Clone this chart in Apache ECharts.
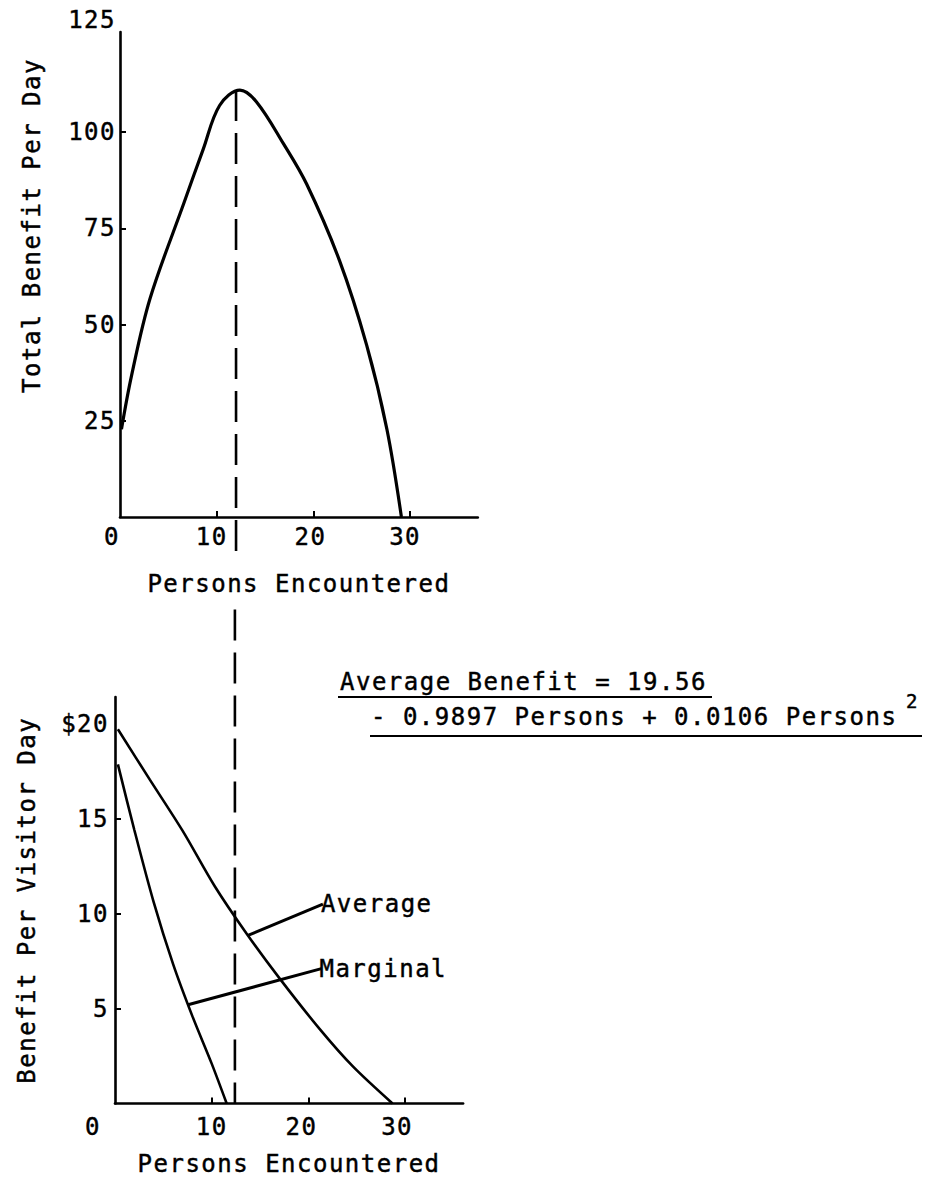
<!DOCTYPE html>
<html>
<head>
<meta charset="utf-8">
<script src="https://cdn.jsdelivr.net/npm/echarts@6/dist/echarts.min.js"></script>
<style>
html, body { margin: 0; padding: 0; background: #ffffff; }
#chart { width: 926px; height: 1180px; }
#chart text { letter-spacing: 1.5px; stroke: #000; stroke-width: 0.45px; }
</style>
</head>
<body>
<div id="chart"></div>
<script>
// ---- Data ----
// Top panel: Total benefit per day vs persons encountered
const totalPersons = [0.15, 1.2, 3.1, 6.6, 8.6, 10.3, 12.4, 14.1, 16.9, 19.3, 22.7, 25.5, 27.6, 29.1];
const totalBenefit = [22.8, 36.8, 56.7, 81.5, 95.5, 106.9, 110.9, 107.9, 97.0, 86.5, 66.6, 44.7, 22.8, 0];

// Bottom panel: benefit per visitor day
const averagePersons = [0.3, 3.6, 7.0, 10.3, 13.6, 17.0, 21.2, 24.6, 28.7];
const averageBenefit = [19.7, 17.05, 14.35, 11.45, 8.95, 6.6, 3.9, 1.95, 0];
const marginalPersons = [0.3, 2.0, 4.0, 6.0, 8.0, 10.0, 11.55];
const marginalBenefit = [17.85, 14.4, 10.6, 7.35, 4.6, 2.1, 0];

// Optimum (dashed guide) position
const guideTopPersons = [12.0, 12.0];
const guideTopValues = [110.9, -10];
const guideBottomPersons = [12.4, 12.4];
const guideBottomValues = [26, 0];

// Label leader lines
const avgLeaderPersons = [13.75, 21.5];
const avgLeaderValues = [8.85, 10.5];
const margLeaderPersons = [7.55, 21.35];
const margLeaderValues = [5.2, 7.1];

// Tick labels / ticks
const topXTicks = [0, 10, 20, 30];
const topYTicks = [25, 50, 75, 100, 125];
const bottomXTicks = [0, 10, 20, 30];
const bottomYTicks = [5, 10, 15, 20];

const FONT = '"DejaVu Sans Mono", monospace';
const FS = 24;

function zip(a, b) { return a.map((v, i) => [v, b[i]]); }

// per-label left shifts (layout only)
function xFormatter(shifts) {
  return function (v) {
    const s = shifts[v] || 0;
    return s ? '{s' + s + '|' + v + '}' : String(v);
  };
}
function richShifts(shifts) {
  const r = {};
  Object.keys(shifts).forEach(k => {
    const s = shifts[k];
    r['s' + s] = { fontSize: FS, fontFamily: FONT, color: '#000', padding: [0, 2 * s, 0, 0] };
  });
  return r;
}

const topXShift = { 0: 8, 10: 5, 20: 3, 30: 5 };
const botXShift = { 0: 22, 20: 7, 30: 8 };

const axisLineStyle = { color: '#000', width: 2.6 };
function ticks(values) {
  return { show: true, inside: true, length: 6, customValues: values, lineStyle: { color: '#000', width: 2 } };
}
const labelBase = { color: '#000', fontSize: FS, fontFamily: FONT };

const chart = echarts.init(document.getElementById('chart'), null, { renderer: 'svg' });

const option = {
  backgroundColor: '#ffffff',
  animation: false,
  textStyle: { fontFamily: FONT, color: '#000' },
  grid: [
    { left: 120, top: 32, width: 357.8, height: 485, containLabel: false },
    { left: 115, top: 697, width: 348.1, height: 406.5, containLabel: false }
  ],
  xAxis: [
    {
      type: 'value', gridIndex: 0, min: 0, max: 37, interval: 10,
      axisLine: { show: true, onZero: false, lineStyle: axisLineStyle },
      axisTick: ticks([10, 20, 30]), splitLine: { show: false },
      axisLabel: Object.assign({}, labelBase, { margin: 8, customValues: topXTicks, formatter: xFormatter(topXShift), rich: richShifts(topXShift) }),
      name: 'Persons Encountered', nameLocation: 'middle', nameGap: 55,
      nameTextStyle: { fontSize: FS, fontFamily: FONT, color: '#000' }
    },
    {
      type: 'value', gridIndex: 1, min: 0, max: 36, interval: 10,
      axisLine: { show: true, onZero: false, lineStyle: axisLineStyle },
      axisTick: ticks([10, 20, 30]), splitLine: { show: false },
      axisLabel: Object.assign({}, labelBase, { margin: 11, customValues: bottomXTicks, formatter: xFormatter(botXShift), rich: richShifts(botXShift) }),
      name: 'Persons Encountered', nameLocation: 'middle', nameGap: 48,
      nameTextStyle: { fontSize: FS, fontFamily: FONT, color: '#000' }
    }
  ],
  yAxis: [
    {
      type: 'value', gridIndex: 0, min: 0, max: 126, interval: 25,
      axisLine: { show: true, onZero: false, lineStyle: axisLineStyle },
      axisTick: ticks([25, 50, 75, 100]), splitLine: { show: false },
      axisLabel: Object.assign({}, labelBase, {
        margin: 4, customValues: topYTicks,
        formatter: function (v) { return v === 125 ? '{t|125}' : String(v); },
        rich: { t: { fontSize: FS, fontFamily: FONT, color: '#000', padding: [0, 0, 32, 0] } }
      }),
      name: 'Total Benefit Per Day', nameLocation: 'middle', nameGap: 76,
      nameTextStyle: { fontSize: FS, fontFamily: FONT, color: '#000', padding: [0, 0, 0, 98] }
    },
    {
      type: 'value', gridIndex: 1, min: 0, max: 21.4, interval: 5,
      axisLine: { show: true, onZero: false, lineStyle: axisLineStyle },
      axisTick: ticks([5, 10, 15]), splitLine: { show: false },
      axisLabel: Object.assign({}, labelBase, {
        margin: 6, customValues: bottomYTicks,
        formatter: function (v) { return v === 20 ? '$20' : String(v); }
      }),
      name: 'Benefit Per Visitor Day', nameLocation: 'middle', nameGap: 76,
      nameTextStyle: { fontSize: FS, fontFamily: FONT, color: '#000' }
    }
  ],
  series: [
    {
      name: 'Total Benefit', type: 'line', xAxisIndex: 0, yAxisIndex: 0,
      data: zip(totalPersons, totalBenefit), smooth: 0.35, symbol: 'none',
      lineStyle: { color: '#000', width: 3.2 }
    },
    {
      name: 'Optimum (top)', type: 'line', xAxisIndex: 0, yAxisIndex: 0, clip: false,
      data: zip(guideTopPersons, guideTopValues), symbol: 'none',
      lineStyle: { color: '#000', width: 2.6, type: [31, 12] }
    },
    {
      name: 'Average', type: 'line', xAxisIndex: 1, yAxisIndex: 1,
      data: zip(averagePersons, averageBenefit), smooth: 0.3, symbol: 'none',
      lineStyle: { color: '#000', width: 2.6 }
    },
    {
      name: 'Marginal', type: 'line', xAxisIndex: 1, yAxisIndex: 1,
      data: zip(marginalPersons, marginalBenefit), smooth: 0.3, symbol: 'none',
      lineStyle: { color: '#000', width: 2.6 }
    },
    {
      name: 'Optimum (bottom)', type: 'line', xAxisIndex: 1, yAxisIndex: 1, clip: false,
      data: zip(guideBottomPersons, guideBottomValues), symbol: 'none',
      lineStyle: { color: '#000', width: 2.6, type: [31, 12] }
    },
    {
      name: 'Average label', type: 'line', xAxisIndex: 1, yAxisIndex: 1,
      data: zip(avgLeaderPersons, avgLeaderValues), symbol: 'none',
      lineStyle: { color: '#000', width: 3 },
      endLabel: { show: true, formatter: 'Average', distance: -2, color: '#000', fontSize: FS, fontFamily: FONT }
    },
    {
      name: 'Marginal label', type: 'line', xAxisIndex: 1, yAxisIndex: 1,
      data: zip(margLeaderPersons, margLeaderValues), symbol: 'none',
      lineStyle: { color: '#000', width: 3 },
      endLabel: { show: true, formatter: 'Marginal', distance: -2, color: '#000', fontSize: FS, fontFamily: FONT }
    }
  ],
  graphic: [
    { type: 'text', x: 340, y: 682, style: { text: 'Average Benefit = 19.56', font: FS + 'px ' + FONT, fill: '#000', align: 'left', verticalAlign: 'middle' } },
    { type: 'line', shape: { x1: 338, y1: 697, x2: 712, y2: 697 }, style: { stroke: '#000', lineWidth: 2 } },
    { type: 'text', x: 371, y: 717, style: { text: '- 0.9897 Persons + 0.0106 Persons', font: FS + 'px ' + FONT, fill: '#000', align: 'left', verticalAlign: 'middle' } },
    { type: 'text', x: 906, y: 701, style: { text: '2', font: '19px ' + FONT, fill: '#000', align: 'left', verticalAlign: 'middle' } },
    { type: 'line', shape: { x1: 370, y1: 736, x2: 922, y2: 736 }, style: { stroke: '#000', lineWidth: 2 } }
  ]
};

chart.setOption(option);
</script>
</body>
</html>
